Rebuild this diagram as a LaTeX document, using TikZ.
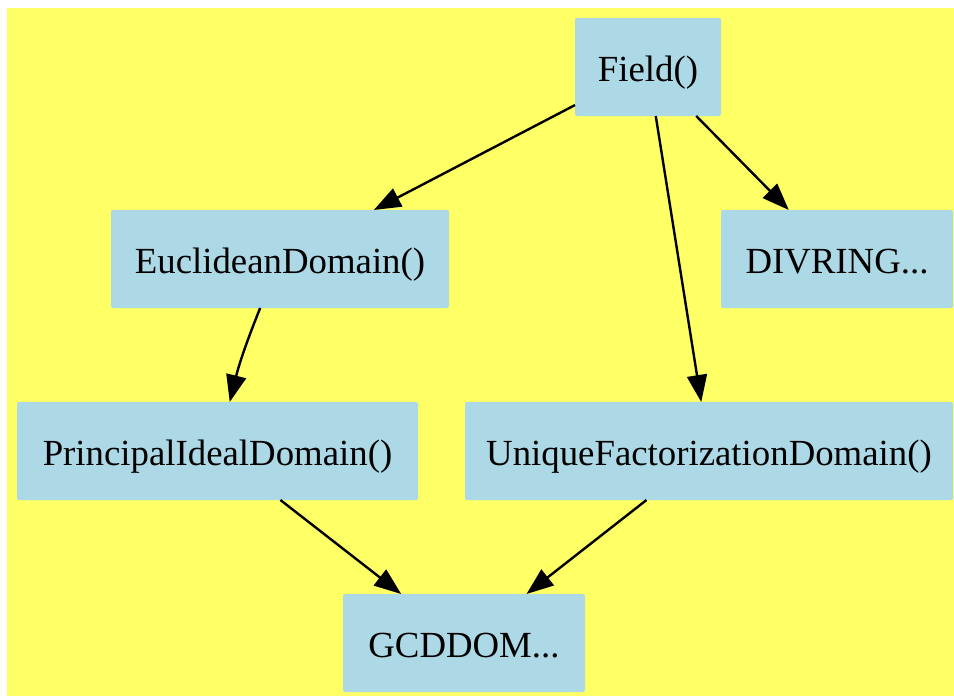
\documentclass[tikz,border=0pt]{standalone}
\usepackage{fontspec}
\setmainfont{Liberation Serif}
\usetikzlibrary{arrows.meta}
\definecolor{bgyellow}{HTML}{FFFF66}
\definecolor{boxblue}{HTML}{ADD8E6}
\begin{document}
\begin{tikzpicture}[x=1pt,y=-1pt,
  box/.style={rectangle, rounded corners=1.5pt, fill=boxblue, draw=none,
    minimum height=98pt, inner sep=0pt, outer sep=0pt,
    text height=29.4pt, text depth=0pt,
    font=\fontsize{36.8}{44}\selectfont},
  edge/.style={line width=2.4pt, -{Triangle[length=27pt,width=20pt]}}]
\useasboundingbox (0,0) rectangle (954,696);
\fill[bgyellow] (7,8) rectangle (954,696);
\node[box, minimum width=146pt] (field) at (648,67) {Field()};
\node[box, minimum width=338pt] (euclid) at (280,259) {EuclideanDomain()};
\node[box, minimum width=232pt] (divring) at (837,259) {DIVRING...};
\node[box, minimum width=401pt] (pid) at (217.5,451) {PrincipalIdealDomain()};
\node[box, minimum width=488pt] (ufd) at (709,451) {UniqueFactorizationDomain()};
\node[box, minimum width=242pt] (gcd) at (464,643) {GCDDOM...};
\draw[edge] (field) -- (euclid);
\draw[edge] (field) -- (divring);
\draw[edge] (field) -- (ufd);
\draw[edge] (euclid) to[bend right=4] (pid);
\draw[edge] (pid) -- (gcd);
\draw[edge] (ufd) -- (gcd);
\end{tikzpicture}
\end{document}
